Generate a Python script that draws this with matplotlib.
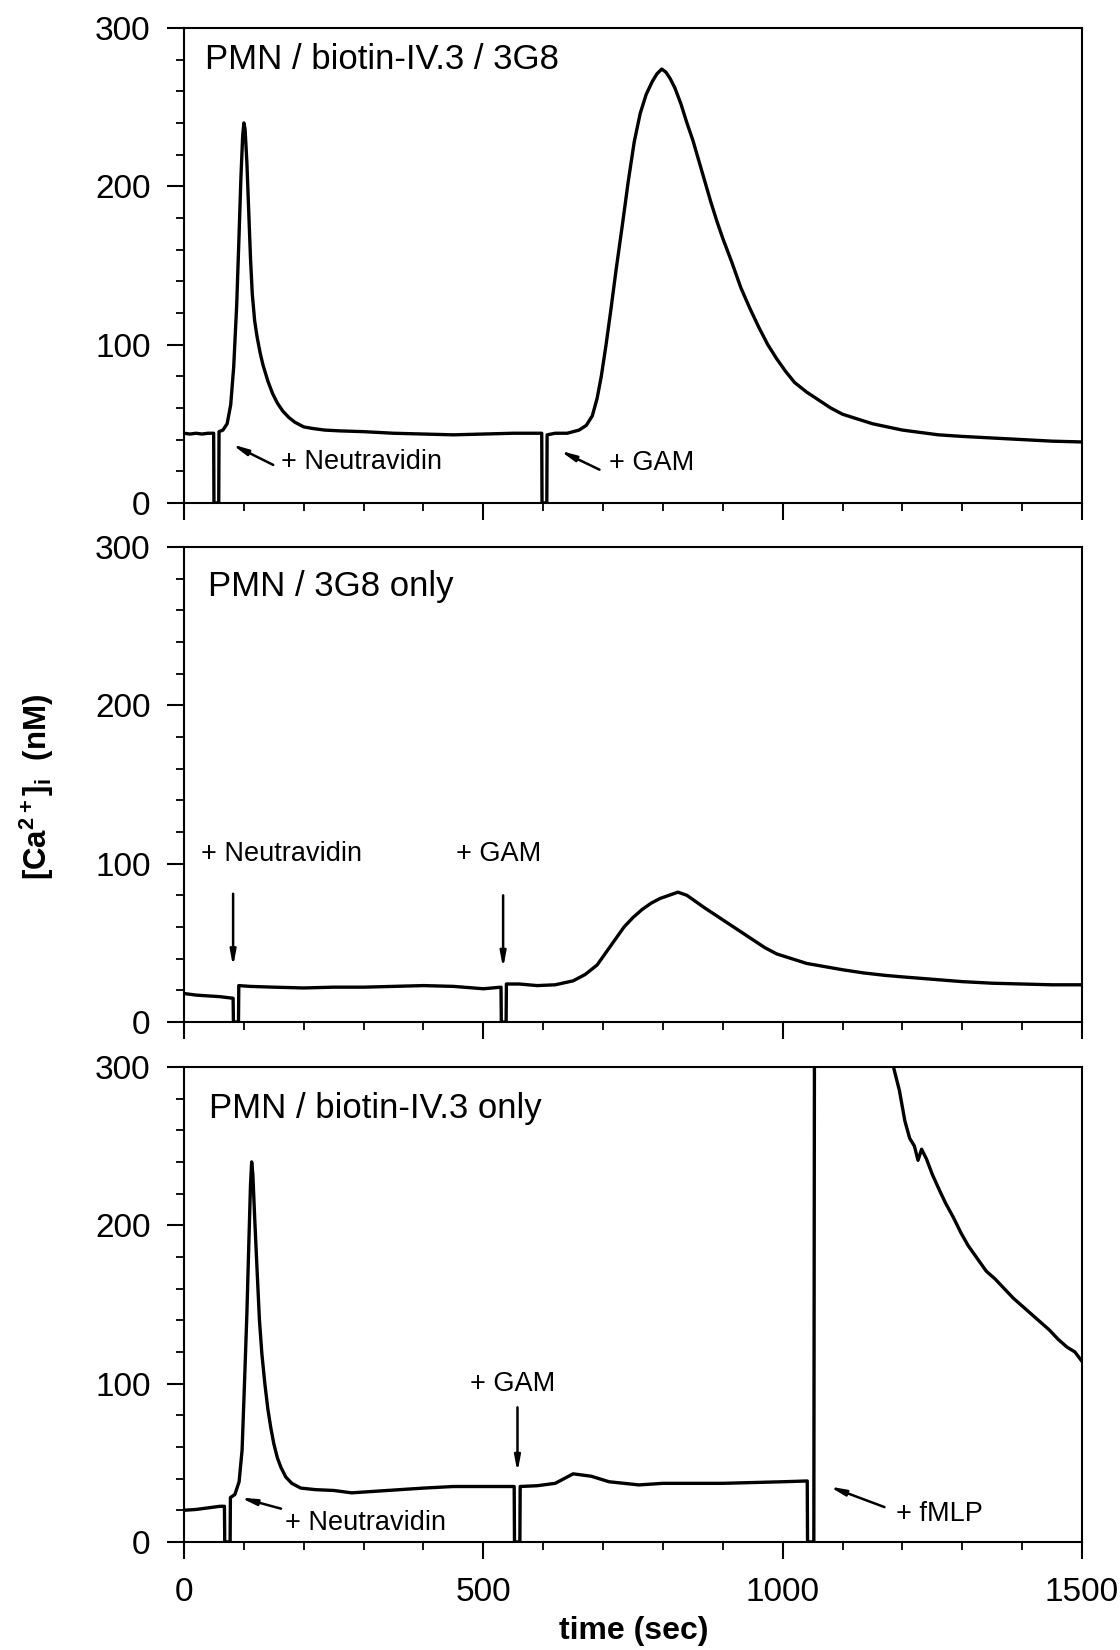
import numpy as np
import matplotlib
matplotlib.use("Agg")
import matplotlib.pyplot as plt
from matplotlib.ticker import MultipleLocator

plt.rcParams['font.family'] = ['Liberation Sans', 'DejaVu Sans']
plt.rcParams['mathtext.fontset'] = 'custom'
plt.rcParams['mathtext.rm'] = 'Liberation Sans'
plt.rcParams['mathtext.bf'] = 'Liberation Sans:bold'

# --- traces (time in s, [Ca2+]i in nM); nan = off scale ---
t_top = [0, 10, 20, 30, 40, 49.5, 50, 58, 58.5, 65, 72, 78, 83, 88, 92, 95, 98, 100, 102, 105,
         108, 111, 114, 118, 122, 127, 132, 140, 148, 156, 165, 175, 185, 200, 215, 235, 260, 300,
         350, 400, 450, 500, 550, 597.5, 598, 606, 606.5, 620, 640, 660, 672, 682, 690, 697, 705,
         713, 722, 732, 742, 752, 762, 772, 782, 790, 798, 805, 812, 820, 830, 840, 850, 860, 870,
         880, 890, 900, 915, 930, 945, 960, 975, 990, 1005, 1020, 1040, 1060, 1080, 1100, 1125,
         1150, 1175, 1200, 1230, 1260, 1300, 1350, 1400, 1450, 1500]
ca_top = [44, 43.5, 44, 43.5, 44, 44, 0, 0, 45, 46, 50, 62, 86, 125, 170, 205, 232, 240, 236, 215,
          185, 155, 132, 115, 105, 95, 87, 77, 69, 63, 58, 54, 51, 48, 47, 46, 45.5, 45,
          44, 43.5, 43, 43.5, 44, 44, 0, 0, 43, 44, 44, 46, 49, 55, 66, 80, 100,
          122, 148, 175, 203, 228, 246, 258, 266, 271, 274, 272, 268, 262, 252, 240, 229, 216, 203,
          190, 178, 167, 152, 136, 123, 111, 100, 91, 83, 76, 70, 65, 60, 56, 53,
          50, 48, 46, 44.5, 43, 42, 41, 40, 39, 38.5]

t_mid = [0, 20, 40, 60, 82, 82.5, 91, 91.5, 110, 150, 200, 250, 300, 350, 400, 450, 500, 529.5,
         530, 538, 538.5, 560, 590, 620, 650, 670, 690, 705, 720, 735, 750, 765, 780, 795, 810,
         825, 840, 855, 870, 890, 910, 930, 950, 970, 990, 1015, 1040, 1070, 1100, 1135, 1170,
         1200, 1250, 1300, 1350, 1400, 1450, 1500]
ca_mid = [18, 17, 16.5, 16, 15, 0, 0, 23, 22.5, 22, 21.5, 22, 22, 22.5, 23, 22.5, 21, 22,
          0, 0, 24, 24, 23, 23.5, 26, 30, 36, 44, 52, 60, 66, 71, 75, 78, 80,
          82, 80, 76, 72, 67, 62, 57, 52, 47, 43, 40, 37, 35, 33, 31, 29.5,
          28.5, 27, 25.5, 24.5, 24, 23.5, 23.5]

t_bot = [0, 20, 40, 60, 67.5, 68, 77, 77.5, 85, 92, 97, 101, 105, 108, 111, 113, 115, 118, 122,
         126, 130, 135, 140, 145, 150, 156, 162, 170, 180, 195, 220, 250, 280, 320, 360, 400, 450,
         500, 551.5, 552, 561, 561.5, 590, 620, 640, 650, 680, 710, 760, 800, 850, 900, 950, 1000,
         1041, 1041.5, 1052, 1053, 1100, 1185, 1195, 1204, 1212, 1220, 1226, 1232, 1240, 1250,
         1262, 1272, 1285, 1298, 1310, 1325, 1340, 1355, 1370, 1385, 1400, 1415, 1430, 1445, 1460,
         1475, 1488, 1500]
ca_bot = [20, 20.5, 21.5, 22.5, 22.5, 0, 0, 28, 30, 38, 58, 100, 144, 185, 225, 240, 232, 205, 172,
          140, 119, 100, 84, 72, 62, 53, 47, 41, 37, 34, 33, 32.5, 31, 32, 33, 34, 35,
          35, 35, 0, 0, 35, 35.5, 37, 41, 43, 41.5, 38, 36, 37, 37, 37, 37.5, 38,
          38.5, 0, 0, 300, np.nan, 300, 285, 266, 255, 250, 241, 248, 242, 232,
          222, 214, 205, 195, 187, 179, 171, 166, 160, 154, 149, 144, 139, 134, 128,
          123, 120, 114]

titles = ["PMN / biotin-IV.3 / 3G8", "PMN / 3G8 only", "PMN / biotin-IV.3 only"]
y_ticks = [0, 100, 200, 300]
x_ticks = [0, 500, 1000, 1500]

fig = plt.figure(figsize=(11.2, 16.5), dpi=100)
boxes = [(0.1643, 0.6952, 0.8018, 0.2879),
         (0.1643, 0.3806, 0.8018, 0.2879),
         (0.1643, 0.0655, 0.8018, 0.2879)]
axes = [fig.add_axes(b) for b in boxes]
traces = [(t_top, ca_top), (t_mid, ca_mid), (t_bot, ca_bot)]

for i, (ax, (t, ca)) in enumerate(zip(axes, traces)):
    ax.plot(t, ca, color="black", lw=2.4, solid_joinstyle="round")
    ax.set_xlim(0, 1500)
    ax.set_ylim(0, 300)
    ax.set_yticks(y_ticks)
    ax.set_xticks(x_ticks)
    ax.xaxis.set_minor_locator(MultipleLocator(100))
    ax.yaxis.set_minor_locator(MultipleLocator(20))
    ax.tick_params(which="major", direction="out", length=12, width=1.5,
                   labelsize=24, pad=12)
    ax.tick_params(which="minor", direction="out", length=6, width=1.3)
    ax.tick_params(axis="x", which="major", pad=13)
    for s in ax.spines.values():
        s.set_linewidth(1.5)
    if i < 2:
        ax.tick_params(axis="x", labelbottom=False)
    ax.text([35, 40, 41][i], [274, 269, 268][i], titles[i], fontsize=25, va="baseline")

arrow = dict(arrowstyle="-|>,head_length=0.9,head_width=0.17", lw=1.8, color="black",
             shrinkA=0, shrinkB=0)
ann = dict(fontsize=19.5, va="baseline")

a1, a2, a3 = axes
a1.annotate("", xy=(80, 37), xytext=(149, 24), arrowprops=arrow)
a1.text(162, 21.5, "+ Neutravidin", **ann)
a1.annotate("", xy=(628, 33), xytext=(694, 21), arrowprops=arrow)
a1.text(710, 21, "+ GAM", **ann)

a2.text(28, 101.5, "+ Neutravidin", **ann)
a2.annotate("", xy=(82, 35), xytext=(82, 81), arrowprops=arrow)
a2.text(455, 101.5, "+ GAM", **ann)
a2.annotate("", xy=(533, 34), xytext=(533, 80), arrowprops=arrow)

a3.annotate("", xy=(94, 28), xytext=(162, 21), arrowprops=arrow)
a3.text(169, 7.5, "+ Neutravidin", **ann)
a3.text(478, 95.5, "+ GAM", **ann)
a3.annotate("", xy=(557, 44), xytext=(557, 85), arrowprops=arrow)
a3.annotate("", xy=(1078, 35), xytext=(1170, 22), arrowprops=arrow)
a3.text(1190, 13.5, "+ fMLP", **ann)

fig.text(0.566, 0.0118, "time (sec)", fontsize=23, fontweight="bold", ha="center", va="center")
fig.text(0.033, 0.523, r"$\mathbf{[Ca^{2+}]_i}$  (nM)", rotation=90, fontsize=22.5,
         fontweight="bold", ha="center", va="center")

fig.savefig("out.png", dpi=100)
